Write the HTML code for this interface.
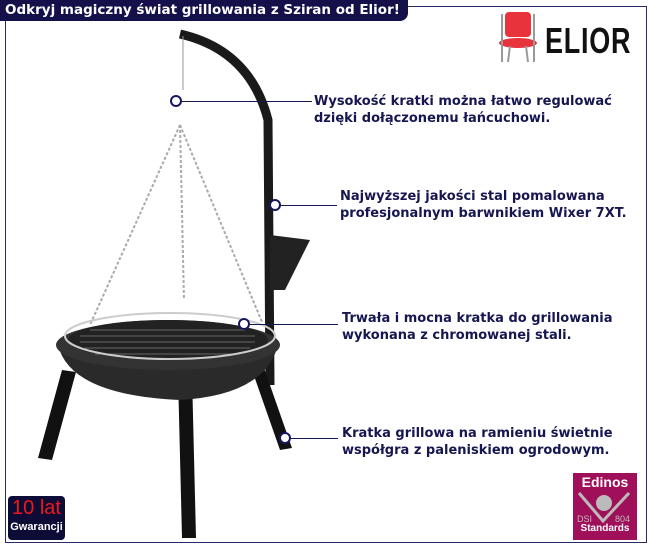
<!DOCTYPE html>
<html><head><meta charset="utf-8"><style>
body{margin:0;width:650px;height:550px;background:#fff;position:relative;overflow:hidden;font-family:"DejaVu Sans","Liberation Sans",sans-serif}
.frame{position:absolute;left:5px;top:6px;width:640px;height:535px;border:1px solid #2a2a6a}
.hdr{position:absolute;left:0;top:0;width:408px;height:21px;background:#13104a;border-bottom-right-radius:8px;color:#fff;font:bold 13.5px "DejaVu Sans",sans-serif;line-height:21px;padding-left:5px;box-sizing:border-box;white-space:nowrap}
.t{position:absolute;color:#161650;font-weight:bold;font-size:13px;line-height:17px;white-space:nowrap}
.ln{position:absolute;height:1px;background:#161650}
.dot{position:absolute;width:8px;height:8px;border:2px solid #161660;border-radius:50%;background:#fff}
</style></head><body>
<div class="frame"></div>
<div class="hdr">Odkryj magiczny świat grillowania z Sziran od Elior!</div>
<svg width="650" height="550" style="position:absolute;left:0;top:0">
<path d="M180 34 Q250 50 268 120 L270 385" stroke="#1a1a1a" stroke-width="9" fill="none"/>
<line x1="183" y1="36" x2="183" y2="90" stroke="#999" stroke-width="1"/>
<g stroke="#aaa" stroke-width="2" fill="none" stroke-dasharray="3 2">
<line x1="180" y1="125" x2="90" y2="325"/><line x1="180" y1="125" x2="184" y2="300"/><line x1="180" y1="125" x2="262" y2="322"/>
</g>
<path d="M270 235 L310 240 L285 290 L270 290Z" fill="#222"/>
<path d="M62 370 L76 372 L52 460 L38 458Z" fill="#111"/>
<path d="M178 375 L192 375 L196 538 L182 538Z" fill="#111"/>
<path d="M252 370 L264 368 L292 448 L280 450Z" fill="#111"/>
<path d="M58 345 Q70 395 180 400 Q265 395 278 345Z" fill="#2a2a2a"/>
<ellipse cx="168" cy="345" rx="112" ry="25" fill="#333"/>
<ellipse cx="168" cy="340" rx="100" ry="20" fill="#222"/>
<g stroke="#666" stroke-width="1">
<line x1="90" y1="330" x2="245" y2="330"/><line x1="80" y1="336" x2="255" y2="336"/><line x1="80" y1="342" x2="255" y2="342"/><line x1="85" y1="348" x2="250" y2="348"/><line x1="95" y1="354" x2="240" y2="354"/>
</g>
<ellipse cx="170" cy="336" rx="105" ry="23" stroke="#ccc" stroke-width="2" fill="none"/>
<rect x="505" y="12" width="26" height="25" rx="4" fill="#e8323c"/>
<ellipse cx="518" cy="43" rx="19" ry="5" fill="#e8323c"/>
<g stroke="#999" stroke-width="2"><line x1="502" y1="14" x2="502" y2="62"/><line x1="534" y1="14" x2="534" y2="62"/><line x1="510" y1="46" x2="508" y2="62"/><line x1="526" y1="46" x2="528" y2="62"/></g>
</svg>
<div style="position:absolute;left:545px;top:20px;font:bold 36px 'Liberation Sans Narrow','Liberation Sans',sans-serif;color:#111;transform:scaleX(0.75);transform-origin:left;letter-spacing:1px">ELIOR</div>
<div class="ln" style="left:182px;top:101px;width:130px"></div>
<div class="ln" style="left:280px;top:205px;width:57px"></div>
<div class="ln" style="left:250px;top:324px;width:88px"></div>
<div class="ln" style="left:290px;top:438px;width:48px"></div>
<div class="dot" style="left:170px;top:95px"></div>
<div class="dot" style="left:269px;top:199px"></div>
<div class="dot" style="left:238px;top:318px"></div>
<div class="dot" style="left:279px;top:432px"></div>
<div class="t" style="left:314px;top:93px">Wysokość kratki można łatwo regulować<br>dzięki dołączonemu łańcuchowi.</div>
<div class="t" style="left:340px;top:188px">Najwyższej jakości stal pomalowana<br>profesjonalnym barwnikiem Wixer 7XT.</div>
<div class="t" style="left:342px;top:310px">Trwała i mocna kratka do grillowania<br>wykonana z chromowanej stali.</div>
<div class="t" style="left:342px;top:425px">Kratka grillowa na ramieniu świetnie<br>współgra z paleniskiem ogrodowym.</div>
<div style="position:absolute;left:8px;top:496px;width:57px;height:44px;background:#0c0c36;border-radius:4px;text-align:center;color:#fff">
<div style="color:#f01818;font:20px 'Liberation Sans Narrow','Liberation Sans',sans-serif;line-height:24px">10 lat</div>
<div style="font:bold 11px 'Liberation Sans',sans-serif;line-height:14px">Gwarancji</div></div>
<div style="position:absolute;left:573px;top:473px;width:64px;height:67px;background:#a0105a;color:#fff;text-align:center">
<div style="font:bold 14px 'Liberation Sans',sans-serif;line-height:18px">Edinos</div>
<svg width="64" height="34" style="display:block"><path d="M6 2 L30 30 L56 2" stroke="#bbb" stroke-width="3" fill="none"/><circle cx="31" cy="12" r="8" fill="#bbb"/><text x="4" y="31" font-size="9" fill="#bbb" font-family="Liberation Sans">DSI</text><text x="42" y="31" font-size="9" fill="#bbb" font-family="Liberation Sans">804</text></svg>
<div style="font:bold 10px 'Liberation Sans',sans-serif;line-height:12px;margin-top:-2px">Standards</div></div>
</body></html>
